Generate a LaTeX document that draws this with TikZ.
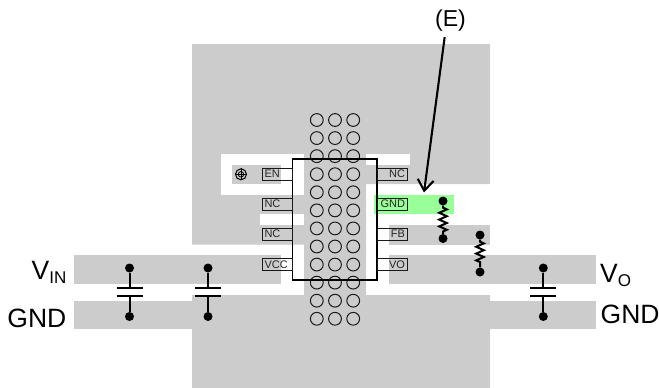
\documentclass[tikz,border=0pt]{standalone}
\usepackage{fontspec}
\setmainfont{Liberation Sans}
\usetikzlibrary{arrows.meta,decorations.pathmorphing}
\definecolor{plane}{HTML}{CCCCCC}
\definecolor{gndgreen}{HTML}{99FF99}

\begin{document}
\begin{tikzpicture}[x=1pt, y=-1pt,
  >={Straight Barb[length=11pt, width=16pt]},
  pad/.style={rectangle, draw=black!90, line width=1pt, minimum width=30pt, minimum height=12pt, inner sep=0pt, text width=25pt, font=\fontsize{11}{11}\selectfont, text=black!85},
  via/.style={circle, draw=black!90, line width=1pt, minimum size=12.8pt, inner sep=0pt},
  dot/.style={circle, fill=black, minimum size=9pt, inner sep=0pt},
  wire/.style={line width=2pt},
  plate/.style={line width=2.1pt},
  res/.style={line width=2pt, decorate, decoration={zigzag, segment length=6.8pt, amplitude=3.8pt, pre length=2pt, post length=2pt}},
  biglabel/.style={font=\fontsize{26.5}{26.5}\selectfont, inner sep=0pt}]
  \useasboundingbox (0,0) rectangle (659,388);
  \newcommand{\sublabel}[1]{{\fontsize{17}{17}\selectfont\raisebox{-4pt}{#1}}}

  % copper
  \fill[plane] (192,44) -- (490,44) -- (490,184) -- (366,184) -- (366,295) -- (490,295) -- (490,388)
    -- (192,388) -- (192,295) -- (304,295) -- (304,244.5) -- (192,244.5) -- cycle;
  \fill[white] (221,154) rectangle (304,195);
  \fill[white] (366,154) rectangle (410,165);
  \fill[white] (260,214) rectangle (304,225);
  \fill[plane] (232,165) rectangle (281,184);
  \fill[plane] (74,255) rectangle (281,284);
  \fill[plane] (74,300.5) rectangle (192,329);
  \fill[plane] (389,225) rectangle (490,245);
  \fill[plane] (389,255) rectangle (596,284);
  \fill[plane] (490,301) rectangle (596,329);
  \fill[gndgreen] (373.5,195) rectangle (454,214);

  % thermal vias
  \foreach \row in {0,...,11}
    \foreach \col/\x in {a/316.8, b/335, c/353.2}
      \node[via] (via\col\row) at (\x,120+18.07*\row) {};

  % device
  \node[draw=black, line width=1.1pt, minimum width=84.5pt, minimum height=121pt, inner sep=0pt] (chip) at (334.75,219.5) {};
  \foreach \name/\txt/\y in {en/EN/174, nca/NC/204, ncb/NC/234, vcc/VCC/264.5}
    \node[pad, align=left] (pad\name) at (277,\y) {\txt};
  \foreach \name/\txt/\y in {ncc/NC/174, gnd/GND/204, fb/FB/234, vo/VO/264.5}
    \node[pad, align=right] (pad\name) at (392.5,\y) {\txt};

  % enable marker
  \node[circle, draw=black, line width=1pt, minimum size=11pt, inner sep=0pt] (mark) at (241,174.3) {};
  \node[circle, draw=black, line width=0.8pt, minimum size=5.5pt, inner sep=0pt] (markin) at (mark) {};
  \draw[black, line width=0.6pt] (mark.west) -- (mark.east) (mark.north) -- (mark.south);

  % capacitors
  \foreach \name/\x in {ca/129.5, cb/208, cc/543.3} {
    \node[dot] (\name top) at (\x,268) {};
    \node[dot] (\name bot) at (\x,316.5) {};
    \node[coordinate] (\name p) at (\x,288) {};
    \node[coordinate] (\name q) at (\x,296) {};
    \draw[wire] (\name top) -- (\name p);
    \draw[wire] (\name bot) -- (\name q);
    \draw[plate] (\x-13,288) -- (\x+13,288);
    \draw[plate] (\x-13,296) -- (\x+13,296);
  }

  % resistors
  \node[dot] (ratop) at (443,201) {};
  \node[dot] (rabot) at (443,238.5) {};
  \node[dot] (rbtop) at (480,235) {};
  \node[dot] (rbbot) at (480,272) {};
  \draw[res] (ratop) -- (rabot);
  \draw[res] (rbtop) -- (rbbot);

  % labels
  \node[font=\fontsize{23}{23}\selectfont, inner sep=0pt] (lblE) at (450.5,21) {(E)};
  \node[coordinate] (Etail) at (444.7,37) {};
  \node[coordinate] (Ehead) at (424,192.5) {};
  \draw[->, line width=2.1pt] (Etail) -- (Ehead);

  \node[biglabel, anchor=base east] (vin) at (66.5,279.3) {V\sublabel{IN}};
  \node[biglabel, anchor=base east] (gndl) at (66.5,327) {GND};
  \node[biglabel, anchor=base west] (vout) at (600,282.7) {V\sublabel{O}};
  \node[biglabel, anchor=base west] (gndr) at (600.5,323.5) {GND};
\end{tikzpicture}
\end{document}
